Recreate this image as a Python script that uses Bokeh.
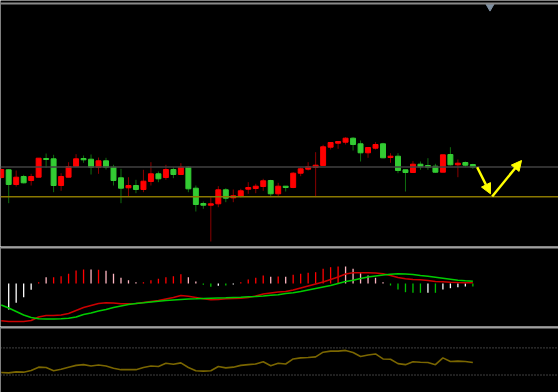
import numpy as np
from bokeh.plotting import figure
from bokeh.layouts import column
from bokeh.models import Range1d, Span, Arrow, NormalHead
from bokeh.embed import file_html
from bokeh.resources import INLINE

# ---------------- data ----------------
opens = [1373, 1380.7, 1366, 1374, 1370, 1373.3, 1392, 1391.7, 1365, 1373.3,
         1384, 1392, 1391.3, 1383.3, 1389.7, 1383.3, 1372.7, 1362.7, 1365, 1361,
         1369, 1376.7, 1373, 1381, 1376, 1383.3, 1362.3, 1347, 1345.3, 1346.7,
         1360.7, 1352.7, 1354, 1361.3, 1362, 1364, 1370, 1356.7, 1364.3, 1363,
         1377.3, 1381.3, 1383, 1385, 1403.3, 1407.3, 1408.3, 1412.3, 1406.7, 1397.7,
         1402.3, 1406.7, 1393, 1394.3, 1380.7, 1378, 1386.3, 1385, 1384.3, 1378.3,
         1396, 1385.7, 1388, 1386]
highs = [1382, 1381.3, 1380, 1375.7, 1376.7, 1392.3, 1397, 1395.7, 1377.3, 1388.3,
         1396.3, 1395, 1396, 1393, 1392.7, 1385.7, 1381.7, 1373.3, 1370.7, 1380.7,
         1388.3, 1379, 1385.7, 1383.3, 1387.3, 1384.3, 1365, 1349, 1353.3, 1364.3,
         1362.3, 1361, 1361.7, 1368.3, 1366.7, 1371.7, 1370.7, 1367.7, 1364.3, 1378.3,
         1383.3, 1388.3, 1398.3, 1405.7, 1408.3, 1409, 1413.3, 1413.3, 1410, 1403,
         1408.3, 1407.7, 1397.3, 1397.3, 1380.7, 1389.3, 1389, 1392.3, 1386.7, 1395.7,
         1403.3, 1391, 1389, 1386.7]
lows = [1372, 1347.3, 1364, 1367, 1365, 1373.3, 1382.7, 1358.3, 1359.7, 1373.3,
        1383.3, 1387.7, 1376, 1376.7, 1381, 1365, 1347.3, 1354.3, 1357.3, 1358.3,
        1365, 1368.3, 1370.7, 1372.3, 1375.7, 1358.3, 1339, 1341.7, 1309, 1343.3,
        1348.3, 1348.3, 1353, 1356.7, 1357.3, 1359.7, 1353.3, 1354, 1359, 1362.3,
        1374.3, 1380, 1353.3, 1385, 1401, 1401.7, 1406, 1400, 1389, 1392.7,
        1401, 1392.3, 1387.7, 1377.3, 1359, 1378, 1380.7, 1380.7, 1377.7, 1378.3,
        1385, 1373.3, 1383.3, 1381.7]
closes = [1381, 1366, 1373.3, 1367.7, 1374, 1392.3, 1391, 1365, 1374, 1384,
          1391.7, 1390.7, 1383.3, 1389.7, 1383.3, 1370, 1362.3, 1365, 1361, 1369.3,
          1376.7, 1371.7, 1381, 1376, 1383.3, 1361.7, 1346, 1345.3, 1346.7, 1360.7,
          1352.3, 1354.7, 1359.7, 1363, 1364.3, 1369.7, 1356.7, 1364.3, 1363, 1377.3,
          1381.7, 1383.7, 1385.3, 1403.7, 1408, 1409, 1412.3, 1406, 1397.7, 1403,
          1406, 1392.7, 1394.3, 1380, 1378, 1386.3, 1383.7, 1383.3, 1378.3, 1395.7,
          1385.7, 1387.3, 1385.3, 1383.3]

macd_main = [-37.3, -38, -38, -38, -37, -33.5, -32, -32, -31.5, -30,
             -27, -24, -22, -20, -19.3, -19.5, -20.3, -20.3, -20, -19,
             -18, -17, -15.5, -14, -12, -12.7, -14, -15.3, -16.3, -16,
             -15.3, -15, -14.7, -14, -12.5, -10.5, -9.5, -8.5, -8, -6.5,
             -4.5, -2.5, -0.5, 1.5, 4, 6.5, 9.5, 10.7, 10.7, 10.7,
             10.5, 9.7, 8, 6, 4.7, 4, 3.7, 3, 2, 1.7,
             1.3, 1, 0.8, 0.7]
macd_signal = [-21.5, -24.5, -28, -31.5, -34, -35.3, -35.5, -35.5, -35.3, -34.7,
               -33.5, -31, -29.5, -27.5, -26, -24, -22.5, -21, -20, -19.3,
               -18.5, -17.7, -17, -16.5, -16, -15.5, -15.3, -15, -14.7, -14.5,
               -14.3, -14, -13.7, -13.3, -13, -12.5, -11.8, -11.3, -10, -9.3,
               -8, -6.5, -5, -3.5, -2, 0, 2, 3.3, 5, 6.5,
               7.5, 8.5, 9.3, 9.7, 9.5, 9, 8, 7.3, 6.3, 5.3,
               4.3, 3.3, 2.7, 2.3]
macd_hist = [0, -26, -19.3, -13.7, -6.3, 1.3, 6.3, 6.3, 7.3, 9.7,
             13, 14, 14, 13.7, 12.7, 9.7, 5.7, 3.3, 1.3, 1.3,
             3.3, 4.7, 6.3, 7.3, 9.3, 6.3, 2, -1.3, -3.3, -2.3,
             -2, -1, 1.3, 4, 5.7, 8, 6.7, 7, 6.7, 8.7,
             9.7, 10.7, 11.3, 14.7, 16.3, 17, 17, 14.7, 10.3, 8,
             5.7, 1.3, -2, -6, -8.7, -9.3, -9.3, -9.3, -9.3, -6,
             -4.7, -3.7, -3, -3]
hist_state = list("WWWWWRPRRRRRPRPPPPPRRRRRRPPGGWGWRRRRPRPRRRRRRRPPPPPPGGGGGWGWWWWG")

rsi = [33.7, 33.2, 34.7, 34.2, 36.8, 41.6, 41.1, 36.3, 38.4, 41.6,
       44.2, 45.3, 43.2, 44.7, 43.2, 40.0, 37.9, 37.9, 37.9, 41.1,
       43.2, 42.6, 47.4, 45.8, 47.9, 41.1, 36.3, 35.8, 36.3, 42.6,
       40.5, 41.6, 44.2, 45.3, 46.3, 49.5, 43.7, 47.4, 46.3, 53.7,
       55.3, 55.8, 56.8, 63.7, 65.3, 65.3, 66.3, 63.2, 57.4, 59.5,
       61.1, 53.7, 53.2, 46.8, 45.3, 49.5, 48.9, 48.4, 45.3, 55.3,
       50.0, 50.5, 50.0, 48.4]
rsi_levels = [70, 30]

resistance_level = 1383.5
support_level = 1353.7
# forecast path drawn with the two yellow arrows (bar index, price)
forecast_x = [63.58, 65.35, 65.58, 69.5]
forecast_y = [1383.3, 1356.7, 1354.0, 1390.0]
marker_x, marker_y = 65.29, 1544

# ---------------- drawing ----------------
idx = np.arange(len(opens))
o = np.array(opens); c = np.array(closes)
up = c >= o
body_top = np.maximum(o, c)
body_bot = np.minimum(o, c)

W = 558
xr = Range1d(-0.094, 74.44)


def make_fig(h, yr):
    p = figure(width=W, height=h, x_range=xr, y_range=yr,
               output_backend="svg", toolbar_location=None,
               x_axis_type=None, y_axis_type=None, min_border=0,
               background_fill_color="black", border_fill_color="black",
               outline_line_color=None)
    p.grid.visible = False
    return p


top = make_fig(246, Range1d(1304, 1550))
top.add_layout(Span(location=1547, dimension="width", line_color="#8a8a8a", line_width=2))
top.add_layout(Span(location=resistance_level, dimension="width", line_color="#404040", line_width=1.5))
top.add_layout(Span(location=support_level, dimension="width", line_color="#8a7800", line_width=1.5))

wick_col = np.where(up, "#8b0000", "#0f6e0f")
body_col = np.where(up, "#ff0000", "#33cc33")
top.segment(x0=idx, y0=lows, x1=idx, y1=highs, line_color=list(wick_col), line_width=1)
top.vbar(x=idx, width=0.66, top=body_top, bottom=body_bot,
         fill_color=list(body_col), line_color=list(body_col), line_width=1)

top.add_layout(Arrow(end=NormalHead(size=10, fill_color="#ffff00", line_color="#ffff00"),
                     x_start=forecast_x[0], y_start=forecast_y[0],
                     x_end=forecast_x[1], y_end=forecast_y[1],
                     line_color="#ffff00", line_width=2.5))
top.add_layout(Arrow(end=NormalHead(size=10, fill_color="#ffff00", line_color="#ffff00"),
                     x_start=forecast_x[2], y_start=forecast_y[2],
                     x_end=forecast_x[3], y_end=forecast_y[3],
                     line_color="#ffff00", line_width=2.5))
top.scatter(x=[marker_x], y=[marker_y], marker="inverted_triangle", size=8,
            fill_color="#7f8fa0", line_color="#7f8fa0")

mid = make_fig(80, Range1d(-43, 37))
mid.add_layout(Span(location=36, dimension="width", line_color="#a0a0a0", line_width=2))
state_colors = {"R": "#ff0000", "P": "#ffb6c1", "W": "#ffffff", "G": "#00c000"}
hcols = [state_colors[s] for s in hist_state]
mid.segment(x0=idx, y0=np.zeros(len(idx)), x1=idx, y1=macd_hist, line_color=hcols, line_width=1.3)
mid.line(idx, macd_main, line_color="#cc0000", line_width=1.6)
mid.line(idx, macd_signal, line_color="#00cc00", line_width=1.6)

bot = make_fig(66, Range1d(4.2, 101.6))
bot.add_layout(Span(location=100.1, dimension="width", line_color="#a0a0a0", line_width=2))
for lv in rsi_levels:
    bot.add_layout(Span(location=lv, dimension="width", line_color="#808080",
                        line_width=1, line_dash="1 2"))
bot.line(idx, rsi, line_color="#7a6600", line_width=1.6)

layout = column(top, mid, bot, spacing=0)

open("out.html", "w").write(file_html(layout, INLINE))
